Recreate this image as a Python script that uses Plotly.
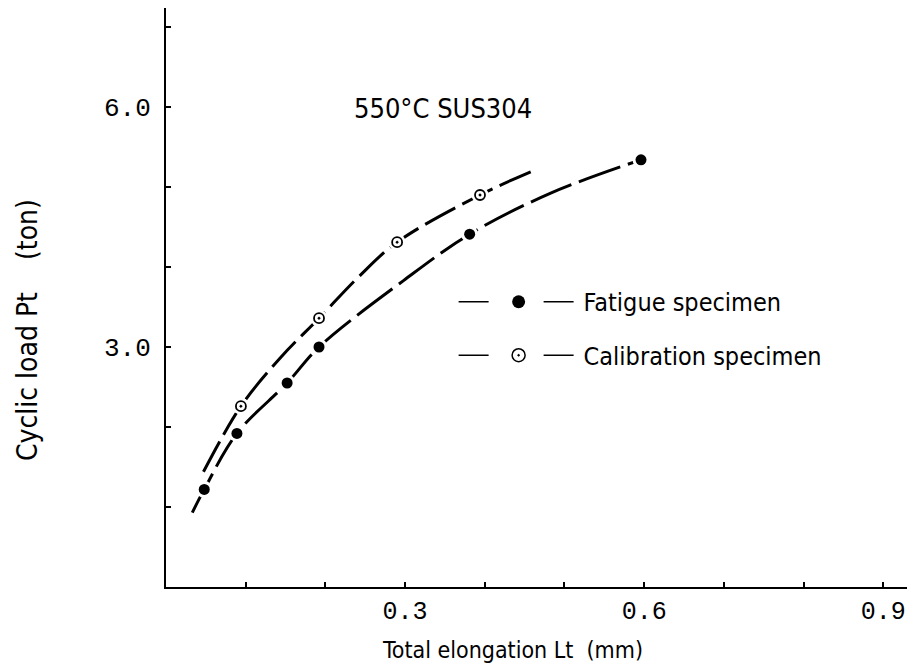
import plotly.graph_objects as go

# Measured data points (Total elongation Lt [mm], Cyclic load Pt [ton])
fatigue_x = [0.048, 0.089, 0.152, 0.192, 0.381, 0.596]
fatigue_y = [1.22, 1.92, 2.55, 3.00, 4.41, 5.34]
calib_x = [0.094, 0.192, 0.290, 0.394]
calib_y = [2.26, 3.36, 4.31, 4.90]

# Fitted curves as drawn in the figure
fatigue_curve_x = [0.033, 0.048, 0.089, 0.152, 0.192, 0.298, 0.381, 0.482, 0.596]
fatigue_curve_y = [0.93, 1.22, 1.92, 2.55, 3.00, 3.83, 4.41, 4.92, 5.34]
calib_curve_x = [0.047, 0.094, 0.143, 0.192, 0.241, 0.290, 0.394, 0.467]
calib_curve_y = [1.44, 2.26, 2.86, 3.36, 3.87, 4.31, 4.90, 5.23]

x_tickvals = [0.1, 0.2, 0.3, 0.4, 0.5, 0.6, 0.7, 0.8, 0.9]
x_ticktext = ["", "", "0.3", "", "", "0.6", "", "", "0.9"]
y_tickvals = [1, 2, 3, 4, 5, 6, 7]
y_ticktext = ["", "", "3.0", "", "", "6.0", ""]

NARROW = "Liberation Sans Narrow, DejaVu Sans Condensed, Liberation Sans, sans-serif"
MONO = "Liberation Mono, DejaVu Sans Mono, monospace"

fig = go.Figure()

fig.add_trace(go.Scatter(x=fatigue_curve_x, y=fatigue_curve_y, mode="lines",
                         line=dict(color="black", width=3, dash="44px,8px", shape="spline"),
                         showlegend=False, hoverinfo="skip"))
fig.add_trace(go.Scatter(x=calib_curve_x, y=calib_curve_y, mode="lines",
                         line=dict(color="black", width=3, dash="34px,8px", shape="spline"),
                         showlegend=False, hoverinfo="skip"))

# white halos so the curves break around the symbols
fig.add_trace(go.Scatter(x=fatigue_x + calib_x, y=fatigue_y + calib_y, mode="markers",
                         marker=dict(color="white", size=17, line=dict(width=0)),
                         showlegend=False, hoverinfo="skip"))

fig.add_trace(go.Scatter(x=fatigue_x, y=fatigue_y, mode="markers", name="Fatigue specimen",
                         legendgroup="f", showlegend=False,
                         marker=dict(color="black", size=11, symbol="circle")))
fig.add_trace(go.Scatter(x=calib_x, y=calib_y, mode="markers", name="Calibration specimen",
                         legendgroup="c", showlegend=False,
                         marker=dict(color="black", size=10, symbol="circle-open-dot",
                                     line=dict(width=1.8, color="black"))))

# legend entries
LEGEND_DASH = "30px,55px,30px,300px"
fig.add_trace(go.Scatter(x=[None], y=[None], mode="lines+markers", name="Fatigue specimen",
                         legendgroup="f",
                         line=dict(color="black", width=1.5, dash=LEGEND_DASH),
                         marker=dict(color="black", size=13, symbol="circle")))
fig.add_trace(go.Scatter(x=[None], y=[None], mode="lines+markers", name="Calibration specimen",
                         legendgroup="c",
                         line=dict(color="black", width=1.5, dash=LEGEND_DASH),
                         marker=dict(color="black", size=13, symbol="circle-open-dot",
                                     line=dict(width=1.5, color="black"))))

fig.update_layout(
    width=907, height=660,
    margin=dict(l=158, r=0, t=0, b=81),
    paper_bgcolor="white", plot_bgcolor="white",
    font=dict(family=NARROW, color="black", size=22),
    showlegend=True,
    legend=dict(x=0.384, y=0.532, xanchor="left", yanchor="top", itemwidth=120,
                bgcolor="rgba(0,0,0,0)", font=dict(family=NARROW, size=25),
                tracegroupgap=18, traceorder="grouped"),
    xaxis=dict(range=[0, 0.9398], showline=True, linecolor="black", linewidth=2,
               showgrid=False, zeroline=False, ticks="inside", ticklen=5, tickwidth=1.5,
               tickcolor="black", tickvals=x_tickvals, ticktext=x_ticktext,
               tickfont=dict(family=MONO, size=25)),
    yaxis=dict(range=[0, 7.2375], showline=True, linecolor="black", linewidth=2,
               showgrid=False, zeroline=False, ticks="inside", ticklen=5, tickwidth=1.5,
               tickcolor="black", tickvals=y_tickvals, ticktext=y_ticktext,
               tickfont=dict(family=MONO, size=26), ticklabelstandoff=8),
    annotations=[
        dict(text="550°C SUS304", x=0.347, y=5.98, xref="x", yref="y", showarrow=False,
             font=dict(family=NARROW, size=27)),
        dict(text="Total elongation Lt  (mm)", x=0.462, y=-0.109, xref="paper", yref="paper",
             xanchor="center", yanchor="middle",
             showarrow=False, font=dict(family=NARROW, size=23)),
        dict(text="Cyclic load Pt    (ton)", x=-0.184, y=0.444, xref="paper", yref="paper",
             xanchor="center", yanchor="middle",
             showarrow=False, textangle=-90, font=dict(family=NARROW, size=28)),
    ],
)

fig.write_html("out.html")
